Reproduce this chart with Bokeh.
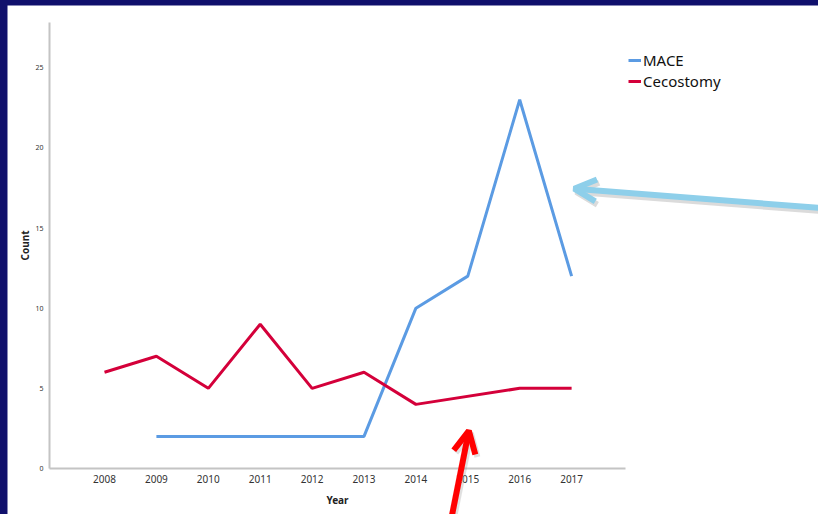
from bokeh.plotting import figure
from bokeh.models import (Range1d, FixedTicker, Legend, LegendItem, Arrow, OpenHead)
from bokeh.layouts import column
from bokeh.embed import file_html
from bokeh.resources import INLINE

# ---- data ----
mace_years = [2009, 2010, 2011, 2012, 2013, 2014, 2015, 2016, 2017]
mace_counts = [2, 2, 2, 2, 2, 10, 12, 23, 12]
ceco_years = [2008, 2009, 2010, 2011, 2012, 2013, 2014, 2016, 2017]
ceco_counts = [6, 7, 5, 9, 5, 6, 4, 5, 5]
x_ticks = [2008, 2009, 2010, 2011, 2012, 2013, 2014, 2015, 2016, 2017]
y_ticks = [0, 5, 10, 15, 20, 25]
x_axis_bounds = (2006.94, 2018.04)
y_axis_bounds = (0, 27.8)

# annotation arrows (data coordinates)
blue_arrow = dict(x_start=2021.8, y_start=16.25, x_end=2017.05, y_end=17.45)
red_arrow = dict(x_start=2014.69, y_start=-3.0, x_end=2015.02, y_end=2.35)

NAVY = "#10106c"
MACE_COLOR = "#5b9be3"
CECO_COLOR = "#d4003a"

p = figure(width=811, height=509, output_backend="svg", toolbar_location=None,
           x_range=Range1d(2006.131, 2021.757), y_range=Range1d(-2.87, 28.88),
           min_border=0)
p.margin = (5, 0, 0, 7)
p.outline_line_color = None
p.grid.visible = False
p.background_fill_color = "white"
p.border_fill_color = "white"

for ax in (p.xaxis[0], p.yaxis[0]):
    ax.axis_line_color = "#c4c4c4"
    ax.axis_line_width = 2
    ax.major_tick_line_color = None
    ax.minor_tick_line_color = None
    ax.major_label_text_font = "Noto Sans"
    ax.major_label_text_color = "#333333"
    ax.axis_label_text_font = "Noto Sans"
    ax.axis_label_text_font_style = "bold"
    ax.axis_label_text_font_size = "10px"
    ax.axis_label_text_color = "#222222"

p.xaxis.fixed_location = 0
p.xaxis.bounds = x_axis_bounds
p.xaxis.ticker = FixedTicker(ticks=x_ticks)
p.xaxis.major_label_text_font_size = "10px"
p.xaxis.major_label_standoff = 1
p.xaxis.axis_label = "Year"
p.xaxis.axis_label_standoff = 6

p.yaxis.fixed_location = x_axis_bounds[0]
p.yaxis.bounds = y_axis_bounds
p.yaxis.ticker = FixedTicker(ticks=y_ticks)
p.yaxis.major_label_text_font_size = "7px"
p.yaxis.major_label_standoff = 0
p.yaxis.axis_label = "Count"
p.yaxis.axis_label_standoff = 0

r1 = p.line(mace_years, mace_counts, line_color=MACE_COLOR, line_width=3)
r2 = p.line(ceco_years, ceco_counts, line_color=CECO_COLOR, line_width=3)

legend = Legend(items=[LegendItem(label="MACE", renderers=[r1]),
                       LegendItem(label="Cecostomy", renderers=[r2])],
                location=(621, 423), margin=0, padding=0, spacing=1,
                glyph_width=13, glyph_height=20, label_height=20,
                label_standoff=2, label_text_font="Noto Sans",
                label_text_font_size="15px", label_text_color="#111111",
                border_line_color=None, background_fill_alpha=0)
p.add_layout(legend)

# shadows then arrows
p.add_layout(Arrow(end=OpenHead(size=22, line_width=6, line_color="#999999", line_alpha=0.35),
                   line_color="#999999", line_alpha=0.35, line_width=6,
                   x_start=blue_arrow["x_start"] + 0.04, y_start=blue_arrow["y_start"] - 0.2,
                   x_end=blue_arrow["x_end"] + 0.04, y_end=blue_arrow["y_end"] - 0.2))
p.add_layout(Arrow(end=OpenHead(size=22, line_width=6, line_color="#8ecfea"),
                   line_color="#8ecfea", line_width=6, **blue_arrow))
p.add_layout(Arrow(end=OpenHead(size=22, line_width=6, line_color="#999999", line_alpha=0.3),
                   line_color="#999999", line_alpha=0.3, line_width=6,
                   x_start=red_arrow["x_start"] + 0.04, y_start=red_arrow["y_start"] - 0.15,
                   x_end=red_arrow["x_end"] + 0.04, y_end=red_arrow["y_end"] - 0.15))
p.add_layout(Arrow(end=OpenHead(size=22, line_width=6, line_color="#ff0000"),
                   line_color="#ff0000", line_width=6, **red_arrow))

layout = column(p, width=818, height=514, styles={"background-color": NAVY})

open("out.html", "w").write(file_html(layout, INLINE))
